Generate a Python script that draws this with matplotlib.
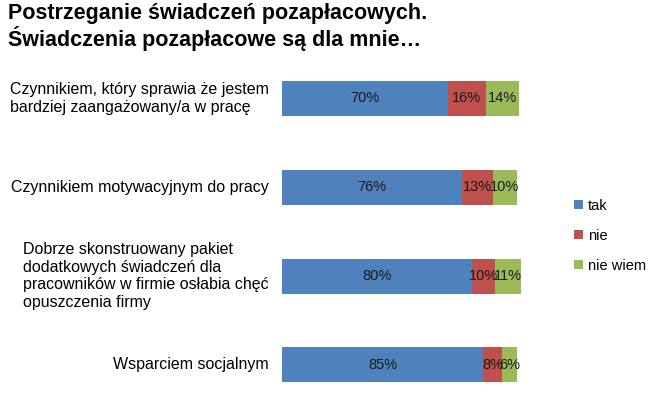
import matplotlib
matplotlib.use("Agg")
import matplotlib.pyplot as plt

plt.rcParams['font.family'] = ['Liberation Sans', 'DejaVu Sans']

# Dane
kategoriat = [
    "Czynnikiem, który sprawia że jestem\nbardziej zaangażowany/a w pracę",
    "Czynnikiem motywacyjnym do pracy",
    "Dobrze skonstruowany pakiet\ndodatkowych świadczeń dla\npracowników w firmie osłabia chęć\nopuszczenia firmy",
    "Wsparciem socjalnym",
]
tak = [70, 76, 80, 85]
nie = [16, 13, 10, 8]
nie_wiem = [14, 10, 11, 6]
sarjat = ["tak", "nie", "nie wiem"]
varit = ["#4F81BD", "#C0504D", "#9BBB59"]

W, H = 655, 396
fig = plt.figure(figsize=(W / 100, H / 100), dpi=100)

# akselin paikka pikseleinä: vasen 282, 100% = 237 px, ylä 54 -> ala 396
ax = fig.add_axes([282 / W, 0, 237 / W, (396 - 54) / H])
ax.set_xlim(0, 100)
ax.set_ylim(3.35, -0.5)
ax.axis("off")

y = list(range(len(kategoriat)))
vasen = [0] * len(y)
for arvot, nimi, vari in zip([tak, nie, nie_wiem], sarjat, varit):
    palkit = ax.barh(y, arvot, left=vasen, height=0.395, color=vari,
                     label=nimi, clip_on=False)
    for yy, v, l in zip(y, arvot, vasen):
        ax.text(l + v / 2, yy, f"{v}%", ha="center", va="center",
                fontsize=10.5, color="#1a1a1a", clip_on=False)
    vasen = [a + b for a, b in zip(vasen, arvot)]

# kategorioiden nimet vasemmalle
for yy, nimi in zip(y, kategoriat):
    ax.text(-5.5, yy, nimi, ha="right", va="center", multialignment="left",
            fontsize=11.5, color="#000000", linespacing=1.22)

fig.text(8 / W, 1 - 3 / H,
         "Postrzeganie świadczeń pozapłacowych.\nŚwiadczenia pozapłacowe są dla mnie…",
         ha="left", va="top", fontsize=15.5, fontweight="bold", linespacing=1.1)

fig.legend(loc="upper left", bbox_to_anchor=(568 / W, 1 - 193 / H),
           frameon=False, fontsize=10.5, handlelength=0.6, handleheight=0.6,
           handletextpad=0.35, labelspacing=1.1, borderaxespad=0)

fig.savefig("out.png", dpi=100)
